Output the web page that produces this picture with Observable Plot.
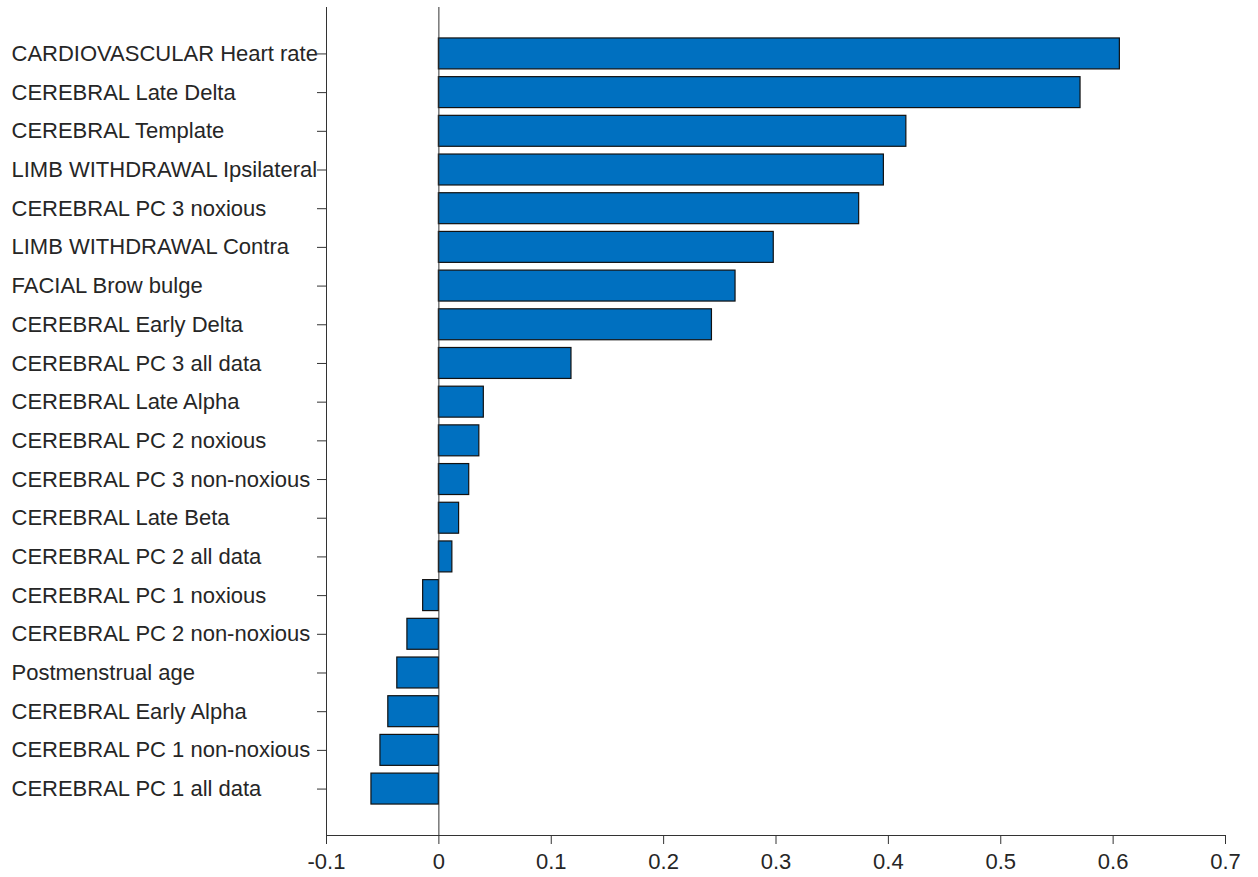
<!DOCTYPE html>
<html>
<head>
<meta charset="utf-8">
<script src="https://cdn.jsdelivr.net/npm/d3@7"></script>
<script src="https://cdn.jsdelivr.net/npm/@observablehq/plot@0.6"></script>
<style>
  html, body { margin: 0; padding: 0; background: white; }
</style>
</head>
<body>
<div id="chart"></div>
<script>
const labels = [
  "CARDIOVASCULAR Heart rate",
  "CEREBRAL Late Delta",
  "CEREBRAL Template",
  "LIMB WITHDRAWAL Ipsilateral",
  "CEREBRAL PC 3 noxious",
  "LIMB WITHDRAWAL Contra",
  "FACIAL Brow bulge",
  "CEREBRAL Early Delta",
  "CEREBRAL PC 3 all data",
  "CEREBRAL Late Alpha",
  "CEREBRAL PC 2 noxious",
  "CEREBRAL PC 3 non-noxious",
  "CEREBRAL Late Beta",
  "CEREBRAL PC 2 all data",
  "CEREBRAL PC 1 noxious",
  "CEREBRAL PC 2 non-noxious",
  "Postmenstrual age",
  "CEREBRAL Early Alpha",
  "CEREBRAL PC 1 non-noxious",
  "CEREBRAL PC 1 all data"
];
const values = [
  0.606, 0.571, 0.416, 0.396, 0.374, 0.298, 0.264, 0.243, 0.118, 0.040,
  0.036, 0.027, 0.018, 0.012, -0.014, -0.028, -0.037, -0.045, -0.052, -0.060
];
const xTicks = [-0.1, 0, 0.1, 0.2, 0.3, 0.4, 0.5, 0.6, 0.7];

const data = labels.map((label, i) => ({label, value: values[i]}));
const fmt = d => String(Math.round(d * 10) / 10);

const chart = Plot.plot({
  width: 1258,
  height: 877,
  marginLeft: 326,
  marginRight: 33,
  marginTop: 7,
  marginBottom: 42,
  style: {
    fontFamily: "'Liberation Sans', Arial, Helvetica, sans-serif",
    fontSize: "22px",
    color: "#262626",
    background: "white",
    overflow: "visible"
  },
  x: {domain: [-0.1, 0.7]},
  y: {domain: labels, paddingInner: 0.2, paddingOuter: 0.8, align: 0.5, round: false},
  marks: [
    Plot.barX(data, {x: "value", y: "label", fill: "#0070C0", stroke: "#111", strokeWidth: 1.2}),
    Plot.ruleX([0], {stroke: "#333", strokeWidth: 1}),
    Plot.frame({anchor: "left", stroke: "#333"}),
    Plot.frame({anchor: "bottom", stroke: "#333"}),
    Plot.axisX({ticks: xTicks, tickFormat: fmt, tickSize: 9, tickPadding: 9, label: null, stroke: "#333"}),
    Plot.axisY({tickSize: 9, tickPadding: 306, textAnchor: "start", label: null, stroke: "#333"})
  ]
});
document.getElementById("chart").appendChild(chart);
</script>
</body>
</html>
